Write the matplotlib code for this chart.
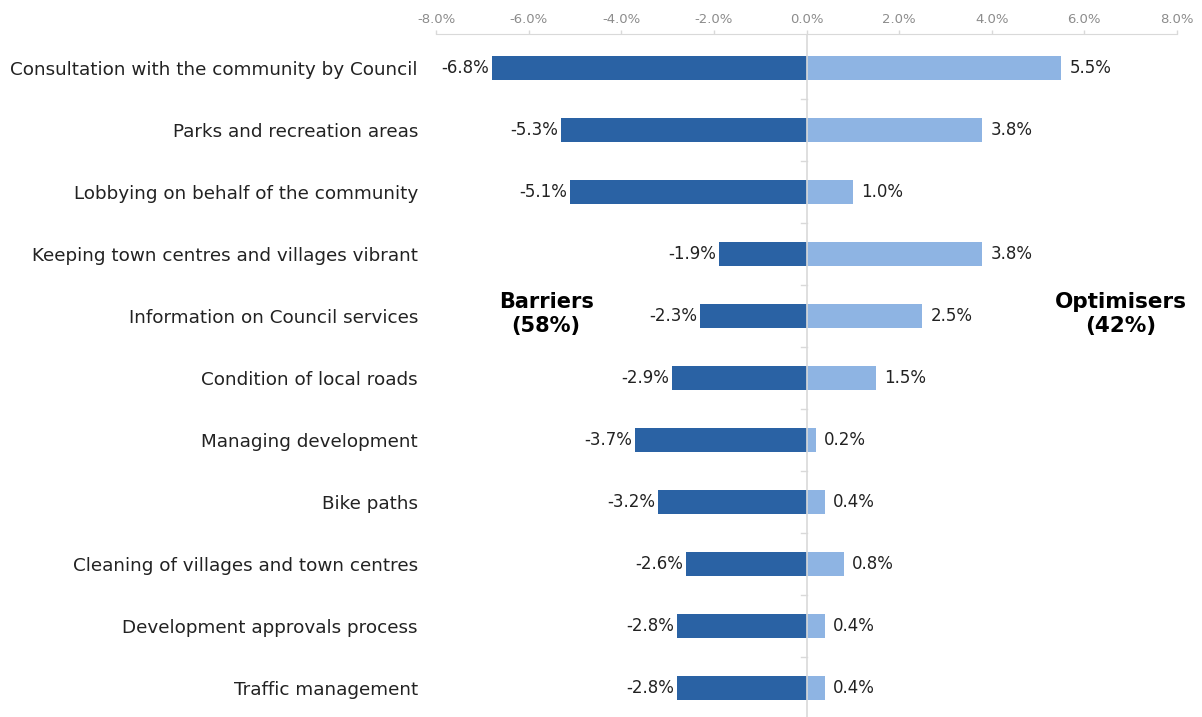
import matplotlib.pyplot as plt
from matplotlib.ticker import FuncFormatter

plt.rcParams['font.family'] = ['DejaVu Sans']

categories = [
    "Consultation with the community by Council",
    "Parks and recreation areas",
    "Lobbying on behalf of the community",
    "Keeping town centres and villages vibrant",
    "Information on Council services",
    "Condition of local roads",
    "Managing development",
    "Bike paths",
    "Cleaning of villages and town centres",
    "Development approvals process",
    "Traffic management",
]
barriers = [-6.8, -5.3, -5.1, -1.9, -2.3, -2.9, -3.7, -3.2, -2.6, -2.8, -2.8]
optimisers = [5.5, 3.8, 1.0, 3.8, 2.5, 1.5, 0.2, 0.4, 0.8, 0.4, 0.4]

dark = "#2A62A4"
light = "#8EB4E3"
grey = "#D9D9D9"

fig = plt.figure(figsize=(12.02, 7.17), dpi=100)
ax = fig.add_axes([436 / 1202, -2 / 717, (1177 - 436) / 1202, (717 - 34 + 2) / 717])

y = list(range(len(categories)))
ax.barh(y, barriers, height=0.4, color=dark)
ax.barh(y, optimisers, height=0.4, color=light)

for i, (b, o) in enumerate(zip(barriers, optimisers)):
    ax.annotate(f"{b:.1f}%", (b, i), xytext=(-2, 0), textcoords="offset points",
                ha="right", va="center", fontsize=12, color="#222222")
    ax.annotate(f"{o:.1f}%", (o, i), xytext=(6, 0), textcoords="offset points",
                ha="left", va="center", fontsize=12, color="#222222")

ax.text(-5.62, 3.97, "Barriers\n(58%)", ha="center", va="center",
        fontsize=15, fontweight="bold", linespacing=1.25)
ax.text(6.78, 3.97, "Optimisers\n(42%)", ha="center", va="center",
        fontsize=15.5, fontweight="bold", linespacing=1.25)

ax.set_xlim(-8, 8)
ax.set_ylim(len(categories) - 0.5, -0.55)
ax.xaxis.tick_top()
ax.set_xticks([-8, -6, -4, -2, 0, 2, 4, 6, 8])
ax.xaxis.set_major_formatter(FuncFormatter(lambda v, p: f"{v:.1f}%"))
ax.tick_params(axis="x", colors=grey, labelcolor="#8C8C8C", labelsize=9.5,
               length=3, width=1, pad=3)

# category labels sit at the far left, boundary ticks on the zero line
ax.set_yticks(y)
ax.set_yticklabels(categories, fontsize=13.2, color="#222222")
ax.tick_params(axis="y", length=0, pad=(436 - 418) * 72 / 100)
for yb in [i + 0.5 for i in range(len(categories) - 1)]:
    ax.plot([-0.12, 0], [yb, yb], color=grey, lw=1, clip_on=False)

ax.axvline(0, color=grey, lw=1.2, zorder=3)
for s in ["left", "right", "bottom"]:
    ax.spines[s].set_visible(False)
ax.spines["top"].set_color(grey)

fig.savefig("out.png", dpi=100)
